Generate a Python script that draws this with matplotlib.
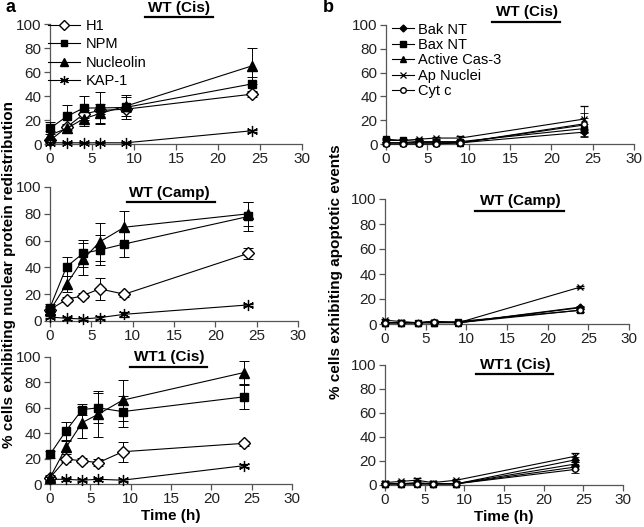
import matplotlib
matplotlib.use("Agg")
import matplotlib.pyplot as plt

plt.rcParams['font.family'] = ['Liberation Sans', 'DejaVu Sans']

W, H = 644, 527
times = [0, 2, 4, 6, 9, 24]

# panel a: nuclear protein redistribution
a_names = ['H1', 'NPM', 'Nucleolin', 'KAP-1']
a_titles = ['WT (Cis)', 'WT (Camp)', 'WT1 (Cis)']
a_vals = [
    [[3, 14, 25, 28, 29, 41.5],
     [13, 23, 30, 30, 30.5, 50],
     [7.5, 13, 21, 25.5, 31.5, 65],
     [1, 1, 1, 1, 1, 11]],
    [[8.5, 16, 19, 24, 20, 50.5],
     [10, 40.5, 50.5, 53, 57.5, 78],
     [8, 27.5, 46, 59, 70, 80],
     [3, 2, 1.5, 2.5, 5, 12]],
    [[5, 19.6, 18.3, 16.8, 25.4, 32],
     [23.3, 42, 58.6, 60, 57, 68.6],
     [5, 29, 48.4, 55, 66, 87.7],
     [3.7, 3.7, 3, 3.7, 3, 14.4]],
]
a_errs = [
    [[1, 2, 3, 3, 2, 2],
     [5, 9.5, 10, 13, 10, 6],
     [3, 4, 6, 8, 8, 15],
     [0.5, 0.5, 0.5, 0.5, 0.5, 1]],
    [[2, 2, 2, 8, 2, 4],
     [3, 7, 10, 11, 10, 11],
     [3, 6, 12, 14, 12, 9],
     [1, 1, 1, 1, 2, 1]],
    [[1, 2, 2, 3, 8, 2],
     [3, 7, 4, 12, 12, 9.5],
     [2, 5, 12, 18, 16, 9],
     [1, 1, 1, 1, 1, 1]],
]

# panel b: apoptotic events
b_names = ['Bak NT', 'Bax NT', 'Active Cas-3', 'Ap Nuclei', 'Cyt c']
b_vals = [
    [[1, 1, 1, 1, 1, 10],
     [4, 3, 2, 2, 2, 13],
     [1, 1, 1, 1, 1, 16],
     [3, 3, 4, 5, 5, 21],
     [0, 0, 0, 0, 1, 17]],
    [[1, 1, 1, 2, 1, 13.5],
     [1, 1, 1, 1, 2, 11],
     [1, 1, 1, 1, 1, 13],
     [3, 2, 1, 2, 1, 29.5],
     [1, 1, 1, 2, 1, 11]],
    [[1, 1, 1, 1, 1, 21],
     [1, 1, 2, 1, 1, 15],
     [1, 1, 1, 1, 1, 17.5],
     [2, 3, 4, 2, 4, 24],
     [1, 1, 1, 1, 1, 13]],
]
b_errs = [
    [[1, 1, 1, 1, 1, 3],
     [1, 1, 1, 1, 1, 4],
     [1, 1, 1, 1, 1, 10],
     [1, 1, 1, 1, 2, 11],
     [0.5, 0.5, 0.5, 0.5, 0.5, 5]],
    [[0.5, 0.5, 0.5, 0.5, 0.5, 1],
     [0.5, 0.5, 0.5, 0.5, 0.5, 1],
     [0.5, 0.5, 0.5, 0.5, 0.5, 1],
     [1, 1, 1, 1, 1, 1],
     [0.5, 0.5, 0.5, 0.5, 0.5, 1]],
    [[1, 1, 1, 1, 1, 2],
     [1, 1, 1, 1, 1, 2],
     [1, 1, 1, 1, 1, 2],
     [1, 1, 2, 1, 1, 3],
     [1, 1, 1, 1, 1, 3]],
]

a_styles = [dict(marker='D', mfc='white', ms=6.5),
            dict(marker='s', mfc='black', ms=6),
            dict(marker='^', mfc='black', ms=6.5),
            dict(marker=(6, 2, 0), mfc='black', ms=8, mew=0.9)]
b_styles = [dict(marker='D', mfc='black', ms=3.5),
            dict(marker='s', mfc='black', ms=4),
            dict(marker='^', mfc='black', ms=4.5),
            dict(marker='x', mfc='black', ms=5, mew=0.9),
            dict(marker='o', mfc='white', ms=4)]

# axes rectangles in pixels: left, right, top, bottom
a_rects = [(50, 302, 24, 144), (50, 298, 187, 321), (50, 292, 357, 484)]
b_rects = [(386, 634, 25, 144), (385, 629, 199, 324), (385, 623, 365, 485)]
# title positions: text x, text y, line x0, line x1, line y
a_tpos = [(179, 8, 145, 213, 17), (169, 193, 127, 215, 202), (169, 357, 130, 207, 367)]
b_tpos = [(527, 12, 492, 560, 22), (520, 201, 475, 564, 211), (515, 365, 476, 553, 374)]

fig = plt.figure(figsize=(W / 100, H / 100), dpi=100)


def px_axes(r):
    l, rr, t, b = r
    return fig.add_axes([l / W, 1 - b / H, (rr - l) / W, (b - t) / H])


def style_axes(ax):
    ax.set_xlim(0, 30)
    ax.set_ylim(0, 100)
    ax.set_xticks(range(0, 31, 5))
    ax.set_yticks(range(0, 101, 20))
    for s in ['top', 'right']:
        ax.spines[s].set_visible(False)
    for s in ['left', 'bottom']:
        ax.spines[s].set_color('#555555')
        ax.spines[s].set_linewidth(0.9)
    ax.tick_params(direction='out', length=4, width=0.9, color='#555555',
                   labelsize=11, pad=2, labelcolor='#222222')
    ax.patch.set_alpha(0)


def title_bar(tp, text):
    tx, ty, x0, x1, ly = tp
    fig.text(tx / W, 1 - ty / H, text, fontsize=11, fontweight='bold',
             ha='center', va='center')
    fig.lines.append(plt.Line2D([x0 / W, x1 / W], [1 - ly / H, 1 - ly / H],
                                color='black', lw=1.6, transform=fig.transFigure))


for i in range(3):
    ax = px_axes(a_rects[i])
    style_axes(ax)
    for name, v, e, st in zip(a_names, a_vals[i], a_errs[i], a_styles):
        ax.errorbar(times, v, yerr=e, color='black', lw=0.8, mec='black',
                    elinewidth=0.7, capsize=3.5, capthick=0.7, label=name,
                    clip_on=False, zorder=3, **st)
    title_bar(a_tpos[i], a_titles[i])
    if i == 0:
        handles, labels = ax.get_legend_handles_labels()
        handles = [h[0] for h in handles]
        ax.legend(handles, labels, loc='upper left', frameon=False, fontsize=10.5,
                  bbox_to_anchor=(-0.03, 1.09), handlelength=2.2, markerscale=0.8,
                  handletextpad=0.4, labelspacing=0.3, borderaxespad=0)
    if i == 2:
        ax.set_xlabel('Time (h)', fontsize=11, fontweight='bold', labelpad=2)

for i in range(3):
    ax = px_axes(b_rects[i])
    style_axes(ax)
    for name, v, e, st in zip(b_names, b_vals[i], b_errs[i], b_styles):
        ax.errorbar(times, v, yerr=e, color='black', lw=0.8, mec='black',
                    elinewidth=0.6, capsize=3, capthick=0.6, label=name,
                    clip_on=False, zorder=3, **st)
    title_bar(b_tpos[i], a_titles[i])
    if i == 0:
        handles, labels = ax.get_legend_handles_labels()
        handles = [h[0] for h in handles]
        ax.legend(handles, labels, loc='upper left', frameon=False, fontsize=10.5,
                  bbox_to_anchor=(0.0, 1.07), handlelength=1.5,
                  handletextpad=0.3, labelspacing=0.1, borderaxespad=0)
    if i == 2:
        ax.set_xlabel('Time (h)', fontsize=11, fontweight='bold', labelpad=2)

fig.text(5 / W, 1 - 8 / H, 'a', fontsize=13, fontweight='bold', va='center')
fig.text(323 / W, 1 - 8 / H, 'b', fontsize=13, fontweight='bold', va='center')
fig.text(9 / W, 1 - 275 / H, '% cells exhibiting nuclear protein redistribution',
         rotation=90, fontsize=11, fontweight='bold', ha='center', va='center')
fig.text(336 / W, 1 - 272 / H, '% cells exhibiting apoptotic events',
         rotation=90, fontsize=11, fontweight='bold', ha='center', va='center')

fig.savefig('out.png', dpi=100)
